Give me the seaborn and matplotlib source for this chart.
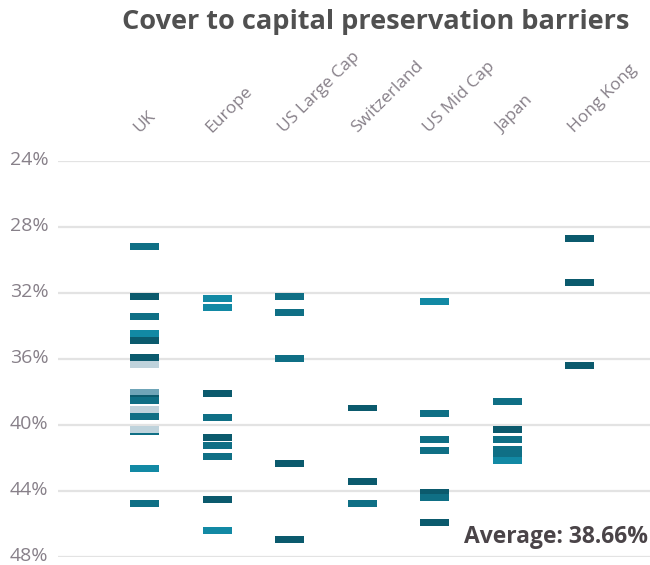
import matplotlib
matplotlib.use("Agg")
import matplotlib.pyplot as plt
import matplotlib.transforms as mtransforms
import seaborn as sns
import pandas as pd

# Barrier levels (% of initial level) per market
uk = [29.2, 32.25, 33.45, 34.5, 34.9, 35.92, 36.35, 38.05, 38.4, 38.55, 39.1, 39.5, 40.45, 40.3, 42.65, 44.8]
uk_shade = ["mid", "dark", "mid", "bright", "dark", "dark", "pale", "grey", "dark", "mid", "pale", "mid", "mid", "pale", "bright", "mid"]

europe = [32.35, 32.9, 38.15, 39.55, 40.8, 41.3, 41.95, 44.55, 46.4]
europe_shade = ["bright", "bright", "dark", "mid", "dark", "mid", "mid", "dark", "bright"]

us_large = [32.25, 33.2, 36.0, 42.35, 46.95]
us_large_shade = ["mid", "mid", "mid", "dark", "dark"]

switzerland = [39.0, 43.45, 44.8]
switzerland_shade = ["dark", "dark", "mid"]

us_mid = [32.55, 39.35, 40.9, 41.55, 44.1, 44.4, 45.95]
us_mid_shade = ["bright", "mid", "mid", "mid", "dark", "mid", "dark"]

japan = [38.6, 40.3, 40.9, 41.5, 41.85, 42.2]
japan_shade = ["mid", "dark", "mid", "mid", "mid", "bright"]

hong_kong = [28.75, 31.4, 36.4]
hong_kong_shade = ["dark", "dark", "dark"]

markets = ["UK", "Europe", "US Large Cap", "Switzerland", "US Mid Cap", "Japan", "Hong Kong"]
y_ticks = [24, 28, 32, 36, 40, 44, 48]
average_label = "Average: 38.66%"

shade_colors = {
    "dark": "#0b5a6d",
    "mid": "#0f6f85",
    "bright": "#1289a4",
    "grey": "#6fa5b8",
    "pale": "#bfd3dc",
}

levels = [uk, europe, us_large, switzerland, us_mid, japan, hong_kong]
shades = [uk_shade, europe_shade, us_large_shade, switzerland_shade, us_mid_shade, japan_shade, hong_kong_shade]
rows = []
for name, vals, sh in zip(markets, levels, shades):
    for v, s in zip(vals, sh):
        rows.append({"market": name, "level": v, "shade": s})
df = pd.DataFrame(rows)
df["pos"] = df["market"].map({m: i for i, m in enumerate(markets)})

sns.set_style("white")
plt.rcParams["font.family"] = ["Open Sans", "DejaVu Sans"]

fig = plt.figure(figsize=(6.5, 5.65), dpi=100)
ax = fig.add_axes([58 / 650, 8.5 / 565, 592 / 650, 396 / 565])

# short flat bar used as the marker
bar = [(-1, -0.24), (1, -0.24), (1, 0.24), (-1, 0.24), (-1, -0.24)]
sns.scatterplot(data=df, x="pos", y="level", hue="shade", palette=shade_colors,
                marker=bar, s=436, linewidth=0, legend=False, ax=ax, zorder=3)

ax.set_ylim(48, 24)
ax.set_xlim(-1.2, 6.97)
ax.set_yticks(y_ticks)
ax.set_yticklabels([f"{t}%" for t in y_ticks])
ax.yaxis.grid(True, color="#e3e3e3", linewidth=1.6)
ax.set_axisbelow(True)
ax.set_xlabel("")
ax.set_ylabel("")
sns.despine(ax=ax, left=True, bottom=True)

ax.tick_params(axis="y", length=0, pad=7, labelsize=14, labelcolor="#878089")
up = mtransforms.ScaledTranslation(0, 2 / 72, fig.dpi_scale_trans)
for lab in ax.get_yticklabels():
    lab.set_transform(lab.get_transform() + up)

ax.xaxis.tick_top()
ax.set_xticks(range(len(markets)))
ax.set_xticklabels(markets, rotation=45, ha="left", va="center", rotation_mode="anchor")
ax.tick_params(axis="x", length=0, pad=22, labelsize=12.5, labelcolor="#878089")
shift = mtransforms.ScaledTranslation(-6 / 72, 0, fig.dpi_scale_trans)
for lab in ax.get_xticklabels():
    lab.set_transform(lab.get_transform() + shift)

fig.text(0.578, 0.961, "Cover to capital preservation barriers", ha="center", va="center",
         fontsize=19.5, fontweight="bold", color="#505050")
fig.text(0.997, 0.05, average_label, ha="right", va="center",
         fontsize=16.5, fontweight="bold", color="#4a4448")

fig.savefig("out.png", dpi=100)
